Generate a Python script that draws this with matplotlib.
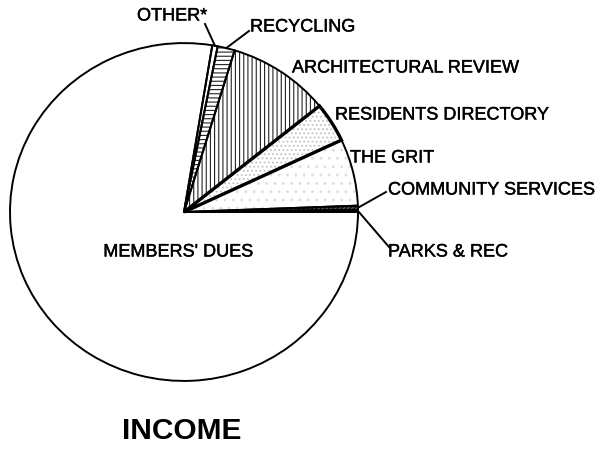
import numpy as np
import matplotlib.pyplot as plt
import matplotlib.patheffects as pe

plt.rcParams['font.family'] = ['Liberation Sans', 'DejaVu Sans']
plt.rcParams['hatch.linewidth'] = 0.8

# slices, counter-clockwise from 3 o'clock
labels = ["PARKS & REC", "COMMUNITY SERVICES", "THE GRIT", "RESIDENTS DIRECTORY",
          "ARCHITECTURAL REVIEW", "RECYCLING", "OTHER*", "MEMBERS' DUES"]
shares = [0.2, 0.4, 6.4, 3.8, 9.5, 1.6, 0.5, 77.6]

hatches = ['', '////////', '..', '....', '||||', '----', '', '']
hatch_cols = ['black', 'black', '#dedede', '#c2c2c2', '#222222', '#222222', 'black', 'black']
faces = ['white', '#555555', 'white', 'white', 'white', 'white', 'white', 'white']

W, H = 616, 454
K = 1.03  # squash the pie a little vertically, like the scan


def px(x, y):
    return x, (H - y) * K


fig = plt.figure(figsize=(W / 100, H / 100), dpi=100)
ax = fig.add_axes([0, 0, 1, 1])

cx, cy = px(184, 212)
R = 174

# fill + hatch layer
wedges, _ = ax.pie(shares, startangle=0, counterclock=True, center=(cx, cy),
                   radius=R, colors=faces, hatch=hatches,
                   wedgeprops=dict(linewidth=0), frame=True)
for w, hc in zip(wedges, hatch_cols):
    w.set_edgecolor(hc)
    w.set_linewidth(0)

# outlines
outl, _ = ax.pie(shares, startangle=0, counterclock=True, center=(cx, cy),
                 radius=R, wedgeprops=dict(fill=False, edgecolor='black', linewidth=1.4),
                 frame=True)
outl[3].set_linewidth(2.4)
ax.set_xlim(0, W)
ax.set_ylim(0, H * K)
ax.set_aspect('auto')
ax.axis('off')

heavy = [pe.withStroke(linewidth=0.3, foreground='black')]

# label placement (text anchor in pixels, leader or not)
label_pos = {
    "OTHER*": (137, 16, True),
    "RECYCLING": (250, 27, True),
    "ARCHITECTURAL REVIEW": (292, 68, False),
    "RESIDENTS DIRECTORY": (335, 115, False),
    "THE GRIT": (350, 158, False),
    "COMMUNITY SERVICES": (388, 190, True),
    "PARKS & REC": (388, 252, True),
}

angles = np.cumsum([0] + shares) * 3.6
mids = (angles[:-1] + angles[1:]) / 2

for i, lab in enumerate(labels):
    if lab not in label_pos:
        continue
    x, y, leader = label_pos[lab]
    tx, ty = px(x, y)
    ax.text(tx, ty, lab, fontsize=13, ha='left', va='center', color='black',
            path_effects=heavy)
    if leader:
        a = np.deg2rad(mids[i])
        ex, ey = cx + R * np.cos(a), cy + R * np.sin(a)
        if lab == "OTHER*":
            sx, sy = px(205, 24)
        elif lab == "RECYCLING":
            sx, sy = px(249, 31)
        elif lab == "COMMUNITY SERVICES":
            sx, sy = px(386, 192)
        else:
            sx, sy = px(389, 247)
        ax.plot([ex, sx], [ey, sy], color='black', linewidth=1.4)

mx, my = px(178, 252)
ax.text(mx, my, "MEMBERS' DUES", fontsize=13, ha='center', va='center',
        path_effects=heavy)

ix, iy = px(182, 431)
ax.text(ix, iy, "INCOME", fontsize=21.5, fontweight='bold', ha='center', va='center')

fig.savefig('out.png', dpi=100)
